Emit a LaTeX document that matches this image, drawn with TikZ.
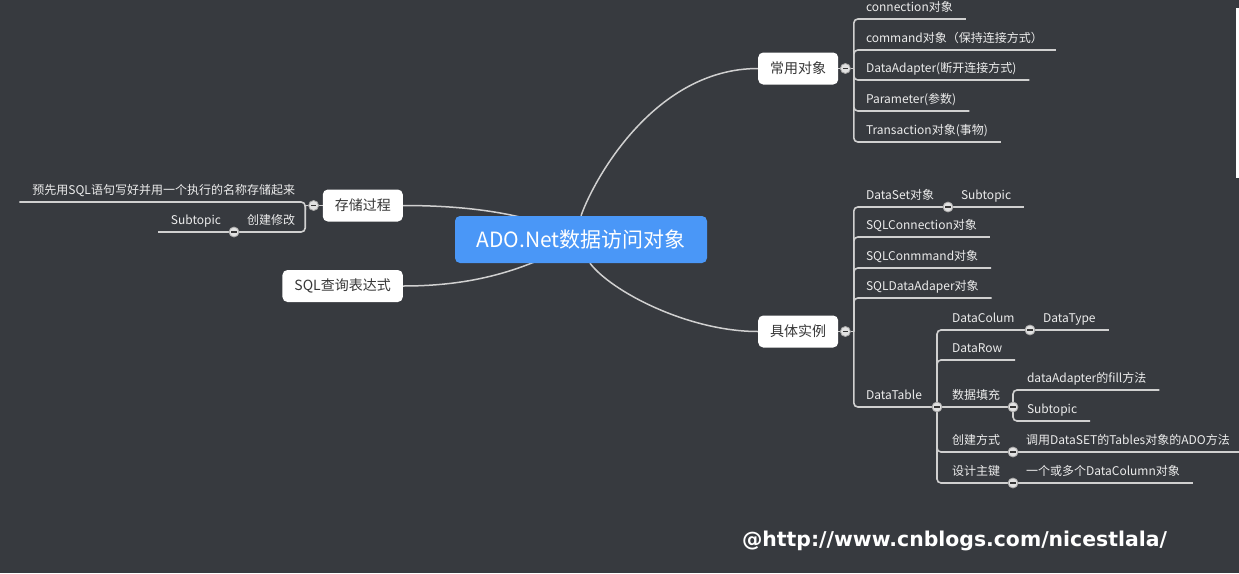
\documentclass[tikz,border=0pt]{standalone}
\usepackage{fontspec}
\setmainfont{Noto Sans CJK SC}
\newfontfamily\markfont{DejaVu Sans}
\usetikzlibrary{positioning}
\definecolor{mmbg}{RGB}{55,58,63}
\definecolor{mmblue}{RGB}{74,151,247}
\definecolor{mmline}{RGB}{208,208,208}
\definecolor{mmtext}{RGB}{236,236,236}
\definecolor{mmdark}{RGB}{55,55,55}
\definecolor{mmfold}{RGB}{225,225,225}
\pgfdeclarelayer{bg}
\pgfdeclarelayer{links}
\pgfsetlayers{bg,links,main}
\tikzset{
  rootbox/.style={fill=mmblue, text=white, rounded corners=5pt, font=\fontsize{21}{25}\selectfont, minimum height=47pt, minimum width=252pt},
  mainbox/.style={fill=white, text=mmdark, rounded corners=5pt, font=\fontsize{14}{16}\selectfont, minimum height=32pt, inner xsep=12pt},
  leafbox/.style={text=mmtext, font=\fontsize{12}{14}\selectfont, inner xsep=13pt, inner ysep=4.5pt, text height=9pt, text depth=3pt, outer sep=0pt, anchor=south west},
  leafboxl/.style={leafbox, anchor=south east},
  foldbtn/.style={circle, fill=mmfold, draw=gray!70, line width=0.8pt, minimum size=10pt, inner sep=0pt,
    path picture={\draw[mmdark, line width=1.4pt] ([xshift=-2.6pt]path picture bounding box.center) -- ([xshift=2.6pt]path picture bounding box.center);}},
  branchline/.style={draw=mmline, line width=1.6pt, rounded corners=4pt},
  curveline/.style={draw=mmline, line width=1.5pt},
}
\begin{document}
\begin{tikzpicture}[x=1pt, y=-1pt]
\useasboundingbox (0,0) rectangle (1239,573);
\begin{pgfonlayer}{bg}
\fill[mmbg] (0,0) rectangle (1239,573);
\fill[white] (1235.5,8) rectangle (1239,178);
\end{pgfonlayer}

% central topic and main branches
\node[rootbox] (root) at (581,239.5) {ADO.Net数据访问对象};
\node[mainbox, anchor=west] (common) at (758,68.5) {常用对象};
\node[mainbox, anchor=west] (concrete) at (758,331.5) {具体实例};
\node[mainbox, anchor=east] (stored) at (403,205.5) {存储过程};
\node[mainbox, anchor=east] (query) at (403,286) {SQL查询表达式};
\node[foldbtn] (f1) at ([xshift=7pt]common.east) {};
\node[foldbtn] (f2) at ([xshift=7pt]concrete.east) {};
\node[foldbtn] (f4) at ([xshift=-9pt]stored.west) {};

% common objects
\node[leafbox] (c1) at (853,19) {connection对象};
\node[leafbox] (c2) at (853,50) {command对象（保持连接方式）};
\node[leafbox] (c3) at (853,80) {DataAdapter(断开连接方式)};
\node[leafbox] (c4) at (853,111) {Parameter(参数)};
\node[leafbox] (c5) at (853,142) {Transaction对象(事物)};

% concrete instances
\node[leafbox] (d1) at (853,207) {DataSet对象};
\node[foldbtn] (fd1) at (948,207) {};
\node[leafbox] (d11) at (fd1.center) {Subtopic};
\node[leafbox] (d2) at (853,237) {SQLConnection对象};
\node[leafbox] (d3) at (853,268) {SQLConmmand对象};
\node[leafbox] (d4) at (853,298) {SQLDataAdaper对象};
\node[leafbox] (d5) at (853,407) {DataTable};
\node[foldbtn] (fd5) at (937,407) {};

% DataTable
\node[leafbox] (t1) at (939,330) {DataColum};
\node[foldbtn] (ft1) at (1030,330) {};
\node[leafbox] (t11) at (ft1.center) {DataType};
\node[leafbox] (t2) at (939,360) {DataRow};
\node[leafbox] (t3) at (939,407) {数据填充};
\node[foldbtn] (ft3) at (1013,407) {};
\node[leafbox] (t31) at (1014,390) {dataAdapter的fill方法};
\node[leafbox] (t32) at (1014,421) {Subtopic};
\node[leafbox] (t4) at (939,452) {创建方式};
\node[foldbtn] (ft4) at (1013,452) {};
\node[leafbox] (t41) at (ft4.center) {调用DataSET的Tables对象的ADO方法};
\node[leafbox] (t5) at (939,483) {设计主键};
\node[foldbtn] (ft5) at (1013,483) {};
\node[leafbox] (t51) at (ft5.center) {一个或多个DataColumn对象};

% stored procedure
\node[leafboxl] (s1) at (308,202) {预先用SQL语句写好并用一个执行的名称存储起来};
\node[leafboxl] (s2) at (308,232) {创建修改};
\node[foldbtn] (fs2) at (234,232) {};
\node[leafboxl] (s21) at (fs2.center) {Subtopic};

\node[font=\markfont\bfseries\fontsize{20.4}{24}\selectfont, text=white] (mark) at (954.5,541) {@http://www.cnblogs.com/nicestlala/};

\begin{pgfonlayer}{links}
\draw[curveline] (root.north) .. controls +(13,-37) and +(-103,0) .. (common.west);
\draw[curveline] ([xshift=9pt]root.south) .. controls +(21,28) and +(-70,0) .. (concrete.west);
\draw[curveline] (stored.east) .. controls +(80,0) and +(-40,-22) .. (root.center);
\draw[curveline] (query.east) .. controls +(77,0) and +(-51,28) .. (root.center);
\draw[branchline] (common.east) -- (f1);
\draw[branchline] (concrete.east) -- (f2);
\draw[branchline] (stored.west) -- (f4);

\draw[branchline] (f1.east) -- ++(3,0) coordinate (sp1);
\foreach \n in {c1,c2,c3,c4,c5}
  \draw[branchline] (sp1) |- (\n.south east);

\draw[branchline] (f2.east) -- ++(3,0) coordinate (sp2);
\foreach \n in {d2,d3,d4}
  \draw[branchline] (sp2) |- (\n.south east);
\draw[branchline] (sp2) |- (fd1.center);
\draw[branchline] (sp2) |- (fd5.center);
\draw[branchline] (fd1.center) -- (d11.south east);

\draw[branchline] (fd5.center) |- (ft1.center);
\draw[branchline] (fd5.center) |- (t2.south east);
\draw[branchline] (fd5.center) -- (ft3.center);
\draw[branchline] (fd5.center) |- (ft4.center);
\draw[branchline] (fd5.center) |- (ft5.center);
\draw[branchline] (ft1.center) -- (t11.south east);
\draw[branchline] (ft3.center) |- (t31.south east);
\draw[branchline] (ft3.center) |- (t32.south east);
\draw[branchline] (ft4.center) -- (t41.south east);
\draw[branchline] (ft5.center) -- (t51.south east);

\draw[branchline] (f4.west) -- ++(-3,0) coordinate (sp4);
\draw[branchline] (sp4) |- (s1.south west);
\draw[branchline] (sp4) |- (fs2.center);
\draw[branchline] (fs2.center) -- (s21.south west);
\end{pgfonlayer}
\end{tikzpicture}
\end{document}
